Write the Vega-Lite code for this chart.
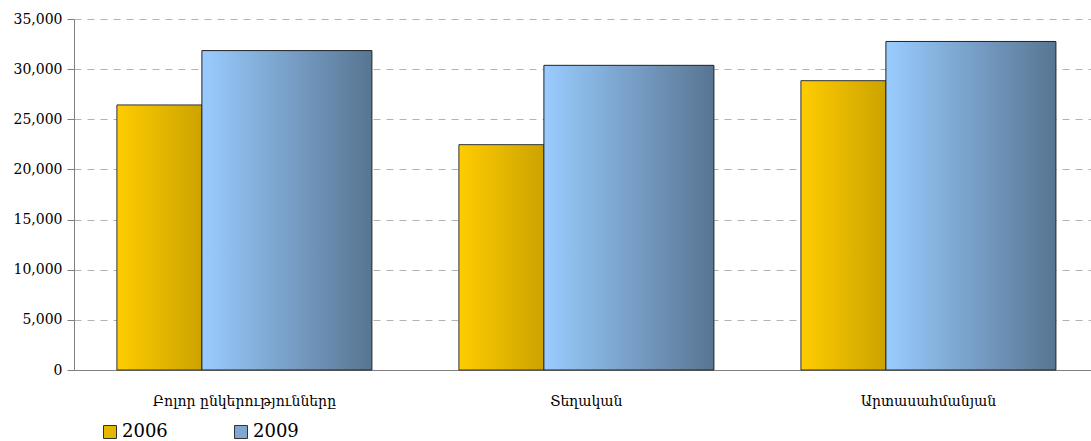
{
  "$schema": "https://vega.github.io/schema/vega-lite/v6.json",
  "width": 1017,
  "height": 351,
  "autosize": "none",
  "padding": {"left": 74, "top": 19, "right": 0, "bottom": 71},
  "background": "white",
  "config": {"font": "DejaVu Serif", "view": {"stroke": null}},
  "data": {
    "values": [
      {"category": "Բոլոր ընկերությունները", "year": "2006", "value": 26430},
      {"category": "Բոլոր ընկերությունները", "year": "2009", "value": 31850},
      {"category": "Տեղական", "year": "2006", "value": 22470},
      {"category": "Տեղական", "year": "2009", "value": 30380},
      {"category": "Արտասահմանյան", "year": "2006", "value": 28850},
      {"category": "Արտասահմանյան", "year": "2009", "value": 32760}
    ]
  },
  "encoding": {
    "x": {
      "field": "category",
      "type": "nominal",
      "sort": ["Բոլոր ընկերությունները", "Տեղական", "Արտասահմանյան"],
      "scale": {"paddingInner": 0.2544, "paddingOuter": 0.114, "align": 0.55},
      "axis": {
        "title": null,
        "labelAngle": 0,
        "labelFont": "DejaVu Serif",
        "labelFontSize": 14,
        "labelLimit": 400,
        "labelColor": "#000000",
        "labelPadding": 24,
        "ticks": false,
        "domainColor": "#808080",
        "grid": false
      }
    },
    "y": {
      "field": "value",
      "type": "quantitative",
      "scale": {"domain": [0, 35000], "nice": false},
      "axis": {
        "title": null,
        "values": [0, 5000, 10000, 15000, 20000, 25000, 30000, 35000],
        "format": ",.0f",
        "labelFont": "DejaVu Serif",
        "labelFontSize": 14,
        "labelColor": "#000000",
        "labelPadding": 5,
        "domainColor": "#808080",
        "tickColor": "#808080",
        "tickSize": 7,
        "grid": true,
        "gridDash": [7, 6],
        "gridColor": "#b3b3b3",
        "gridWidth": 1
      }
    }
  },
  "layer": [
    {
      "transform": [{"filter": "datum.year == '2006'"}],
      "mark": {
        "type": "bar",
        "stroke": "#333333",
        "strokeWidth": 1,
        "width": {"band": 0.3333},
        "xOffset": -85,
        "fill": {"gradient": "linear", "x1": 0, "y1": 0, "x2": 1, "y2": 0, "stops": [{"offset": 0, "color": "#FFCC00"}, {"offset": 1, "color": "#CCA300"}]}
      }
    },
    {
      "transform": [{"filter": "datum.year == '2009'"}],
      "mark": {
        "type": "bar",
        "stroke": "#222222",
        "strokeWidth": 1,
        "width": {"band": 0.6667},
        "xOffset": 42.5,
        "fill": {"gradient": "linear", "x1": 0, "y1": 0, "x2": 1, "y2": 0, "stops": [{"offset": 0, "color": "#99CCFF"}, {"offset": 1, "color": "#587592"}]}
      }
    },
    {
      "mark": {"type": "point", "shape": "square", "filled": true, "opacity": 0},
      "encoding": {
        "fill": {
          "field": "year",
          "type": "nominal",
          "scale": {"domain": ["2006", "2009"], "range": ["#E3B600", "#7FA7CF"]},
          "legend": {
            "title": null,
            "orient": "none",
            "legendX": 27,
            "legendY": 404,
            "direction": "horizontal",
            "columns": 2,
            "columnPadding": 64,
            "symbolType": "square",
            "symbolSize": 169,
            "symbolOpacity": 1,
            "symbolStrokeColor": "#333333",
            "symbolStrokeWidth": 1,
            "labelFont": "DejaVu Serif",
            "labelFontSize": 18,
            "labelColor": "#000000",
            "labelOffset": 3,
            "encode": {
              "symbols": {
                "update": {
                  "stroke": {"value": "#333333"},
                  "strokeWidth": {"value": 1},
                  "opacity": {"value": 1},
                  "fill": [
                    {"test": "datum.value === '2006'", "value": {"gradient": "linear", "x1": 0, "y1": 0, "x2": 1, "y2": 0, "stops": [{"offset": 0, "color": "#FFCC00"}, {"offset": 1, "color": "#CCA300"}]}},
                    {"value": {"gradient": "linear", "x1": 0, "y1": 0, "x2": 1, "y2": 0, "stops": [{"offset": 0, "color": "#99CCFF"}, {"offset": 1, "color": "#587592"}]}}
                  ]
                }
              }
            }
          }
        }
      }
    }
  ]
}
